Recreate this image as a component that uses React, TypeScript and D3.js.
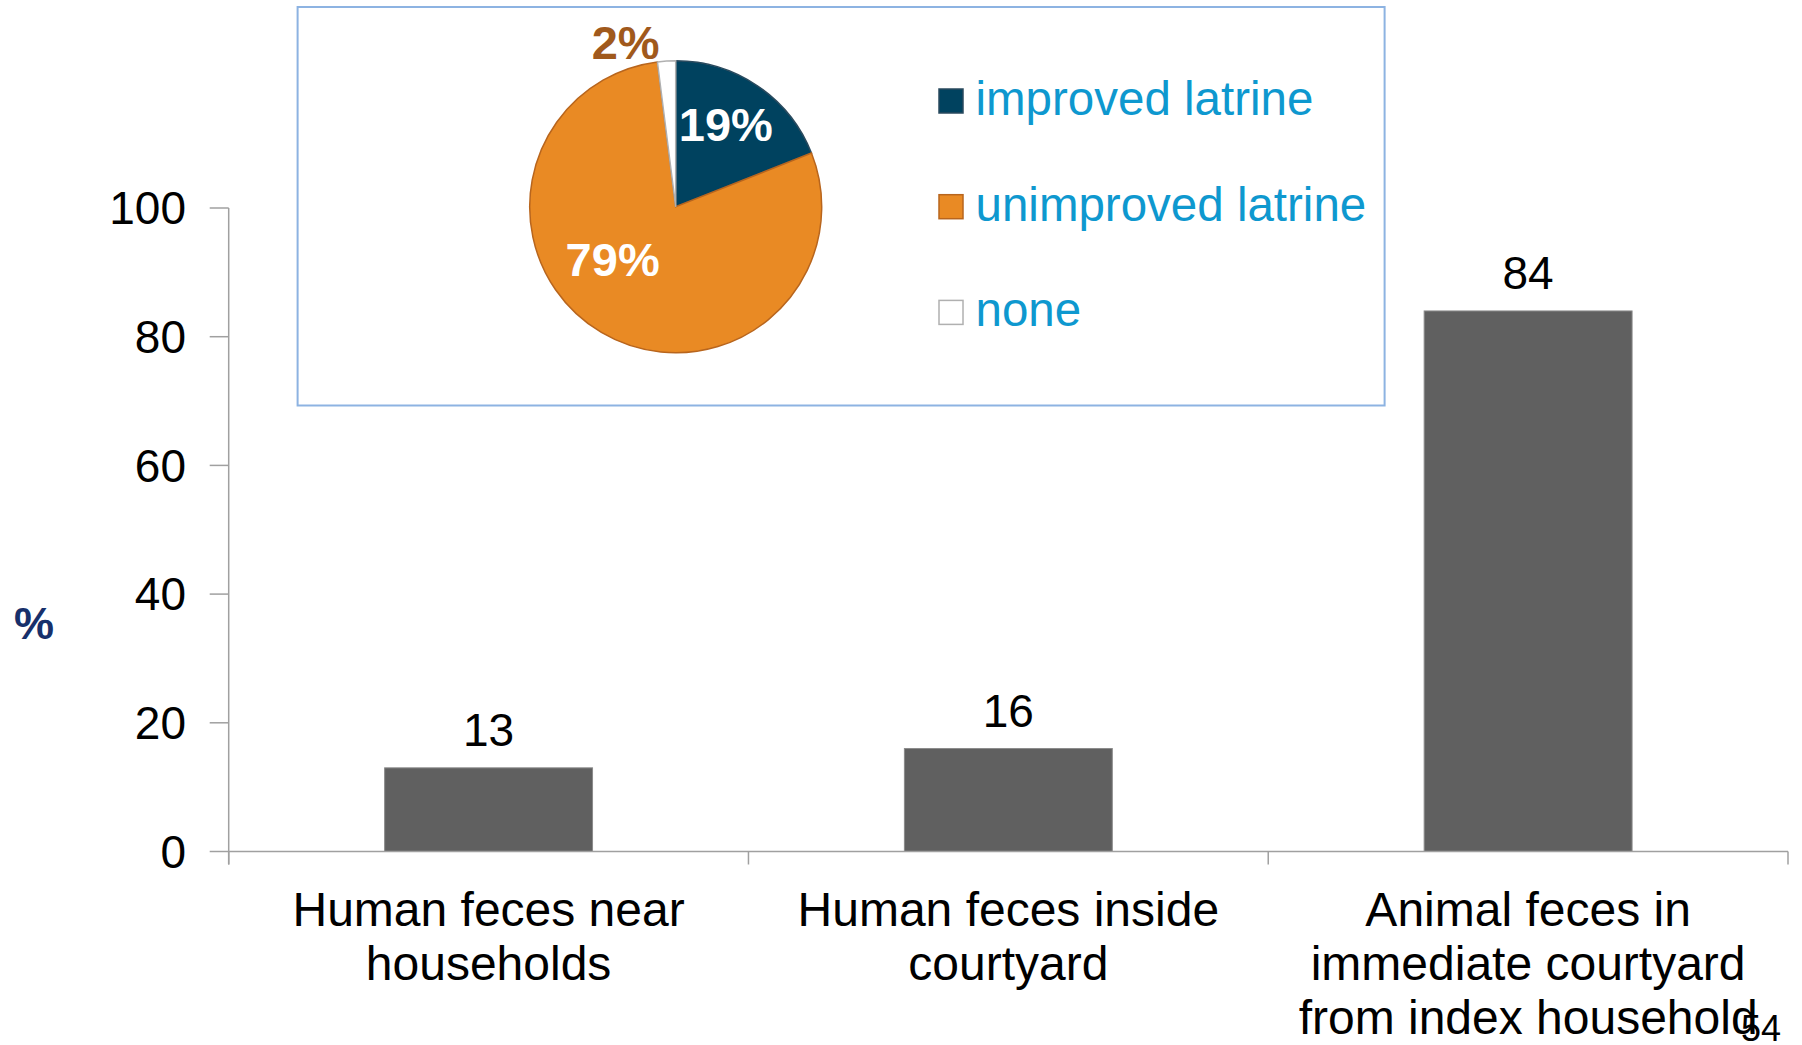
import React from "react";
import * as d3 from "d3";

const categories = [
  ["Human feces near", "households"],
  ["Human feces inside", "courtyard"],
  ["Animal feces in", "immediate courtyard", "from index household"],
];
const barValues = [13, 16, 84];
const yTicks = [0, 20, 40, 60, 80, 100];

const pieLabels = ["improved latrine", "unimproved latrine", "none"];
const pieValues = [19, 79, 2];
const pieColors = ["#00425F", "#E98A24", "#FFFFFF"];
const pieStrokes = ["#2a4a5e", "#B8651D", "#B0B0B0"];
const pieTextColors = ["#FFFFFF", "#FFFFFF", "#A0591C"];

const W = 1802;
const H = 1045;
const FONT = "'Liberation Sans', Arial, Helvetica, sans-serif";

export default function App() {
  const x0 = 228.7;
  const x1 = 1788;
  const yTop = 208;
  const yBot = 851.5;

  const x = d3
    .scaleBand<number>()
    .domain(d3.range(categories.length))
    .range([x0, x1])
    .paddingInner(0.6)
    .paddingOuter(0.3);
  const y = d3.scaleLinear().domain([0, 100]).range([yBot, yTop]);

  const step = (x1 - x0) / categories.length;

  // pie
  const cx = 675.7;
  const cy = 206.8;
  const r = 146;
  const pie = d3.pie<number>().sort(null).value((d) => d)(pieValues);
  const arc = d3.arc<d3.PieArcDatum<number>>().innerRadius(0).outerRadius(r);
  const labelArc = d3
    .arc<d3.PieArcDatum<number>>()
    .innerRadius(r * 0.66)
    .outerRadius(r * 0.66);
  const outerArc = d3
    .arc<d3.PieArcDatum<number>>()
    .innerRadius(r * 1.1)
    .outerRadius(r * 1.1);
  const labelOffsets = [
    [-4, -3],
    [-14, -31],
    [-40, -4],
  ];

  const legendX = 939;
  const legendY0 = 115;
  const legendStep = 105.7;

  return (
    <svg
      width={W}
      height={H}
      style={{ position: "absolute", left: 0, top: 0, background: "#fff" }}
      fontFamily={FONT}
    >
      <rect x={0} y={0} width={W} height={H} fill="#fff" />

      {/* bars */}
      {barValues.map((v, i) => (
        <g key={i}>
          <rect
            x={x(i)}
            y={y(v)}
            width={x.bandwidth()}
            height={yBot - y(v)}
            fill="#606060"
            stroke="#8a8a8a"
            strokeWidth={1}
          />
          <text
            x={(x(i) as number) + x.bandwidth() / 2}
            y={y(v) - 22}
            textAnchor="middle"
            fontSize={46}
            fill="#000"
          >
            {v}
          </text>
        </g>
      ))}

      {/* y axis */}
      <line x1={x0} x2={x0} y1={yTop} y2={yBot + 13} stroke="#a0a0a0" strokeWidth={1.5} />
      {yTicks.map((t) => (
        <g key={t}>
          <line x1={x0 - 19} x2={x0} y1={y(t)} y2={y(t)} stroke="#a0a0a0" strokeWidth={1.5} />
          <text
            x={186}
            y={y(t)}
            dy="0.35em"
            textAnchor="end"
            fontSize={46}
            fill="#000"
          >
            {t}
          </text>
        </g>
      ))}

      {/* x axis */}
      <line x1={x0} x2={x1} y1={yBot} y2={yBot} stroke="#a0a0a0" strokeWidth={1.5} />
      {d3.range(categories.length + 1).map((i) => (
        <line
          key={i}
          x1={x0 + step * i}
          x2={x0 + step * i}
          y1={yBot}
          y2={yBot + 13}
          stroke="#a0a0a0"
          strokeWidth={1.5}
        />
      ))}
      {categories.map((lines, i) => (
        <text
          key={i}
          x={(x(i) as number) + x.bandwidth() / 2}
          y={926}
          textAnchor="middle"
          fontSize={48}
          fill="#000"
        >
          {lines.map((l, j) => (
            <tspan key={j} x={(x(i) as number) + x.bandwidth() / 2} dy={j === 0 ? 0 : 54}>
              {l}
            </tspan>
          ))}
        </text>
      ))}

      {/* y label */}
      <text x={34} y={639} textAnchor="middle" fontSize={45} fontWeight="bold" fill="#17306B">
        %
      </text>

      {/* inset box */}
      <rect
        x={297.6}
        y={7}
        width={1087}
        height={398.5}
        fill="#fff"
        stroke="#8DB3E2"
        strokeWidth={2}
      />

      {/* pie */}
      <g transform={`translate(${cx},${cy})`}>
        {pie.map((d, i) => (
          <path
            key={i}
            d={arc(d) as string}
            fill={pieColors[i]}
            stroke={pieStrokes[i]}
            strokeWidth={1.5}
          />
        ))}
        {pie.map((d, i) => {
          const c = i === 2 ? outerArc.centroid(d) : labelArc.centroid(d);
          return (
            <text
              key={i}
              x={c[0] + labelOffsets[i][0]}
              y={c[1] + labelOffsets[i][1]}
              dy="0.36em"
              textAnchor="middle"
              fontSize={47}
              fontWeight="bold"
              fill={pieTextColors[i]}
            >
              {pieValues[i]}%
            </text>
          );
        })}
      </g>

      {/* legend */}
      {pieLabels.map((l, i) => (
        <g key={i}>
          <rect
            x={legendX}
            y={legendY0 + legendStep * i - 26}
            width={24}
            height={24}
            fill={pieColors[i]}
            stroke={pieStrokes[i]}
            strokeWidth={1.5}
          />
          <text
            x={975.5}
            y={legendY0 + legendStep * i}
            fontSize={47.5}
            fill="#0E98CF"
          >
            {l}
          </text>
        </g>
      ))}

      {/* page number */}
      <text x={1761} y={1041} textAnchor="middle" fontSize={36} fill="#000">
        54
      </text>
    </svg>
  );
}
